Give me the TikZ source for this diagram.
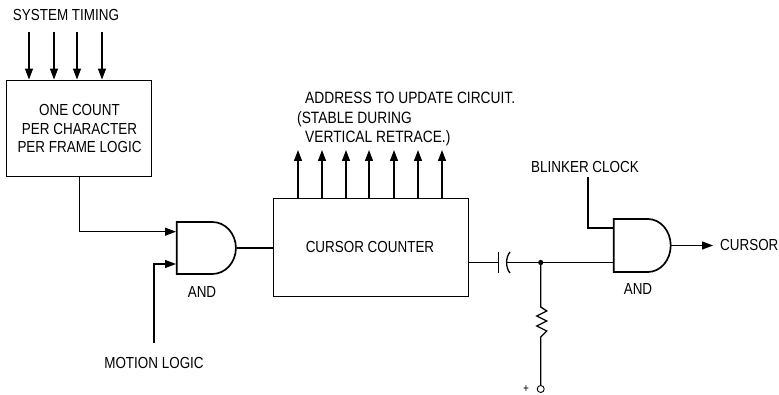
\documentclass[tikz,border=0pt]{standalone}
\usepackage{fontspec}
\setmainfont[FakeStretch=0.84]{Liberation Sans}
\usetikzlibrary{arrows.meta,calc,shapes.gates.logic.US}
\tikzset{
    label text/.style={font=\fontsize{16}{18.5}\selectfont, inner sep=0pt, align=center},
    address text/.style={font=\fontsize{16.4}{19.5}\selectfont, inner sep=0pt, align=left},
    block/.style={draw, line width=0.9pt, inner sep=0pt},
    gate/.style={and gate US, draw, line width=1.7pt, inner sep=0pt, logic gate inputs=nn, anchor=west, transform shape},
    wire/.style={line width=1.3pt},
    signal/.style={wire, -{Triangle[length=11pt,width=8pt]}},
}
\begin{document}
\begin{tikzpicture}[x=1pt, y=-1pt]
    \useasboundingbox (0,0) rectangle (779,395);

    % Draw blocks
    \node[block, minimum width=145pt, minimum height=96pt] (logicBox) at (78.5,128) {};
    \node[block, minimum width=195pt, minimum height=98pt] (counterBox) at (371,247) {};

    % Draw gates
    \node[gate, xscale=0.91, minimum height=52pt] (andLeft) at (176,248) {};
    \node[gate, xscale=0.86, minimum height=53pt] (andRight) at (613,245.5) {};

    % Define coordinates for gate inputs
    \coordinate (andLeftA) at ($(andLeft.west)+(0,-16.3)$);
    \coordinate (andLeftB) at ($(andLeft.west)+(0,16)$);
    \coordinate (andRightA) at ($(andRight.west)+(0,-17.5)$);
    \coordinate (andRightB) at ($(andRight.west)+(0,17)$);

    % Label blocks and gates
    \node[label text] (logicText) at (79.5,128.5) {ONE COUNT\\PER CHARACTER\\PER FRAME LOGIC};
    \node[label text] (counterText) at (370,247) {CURSOR COUNTER};
    \node[label text] (andLeftText) at (202,292) {AND};
    \node[label text] (andRightText) at (638,289) {AND};

    % Label signals
    \node[label text] (timingText) at (66,15) {SYSTEM TIMING};
    \node[label text] (motionText) at (154,363) {MOTION LOGIC};
    \node[label text] (blinkerText) at (585,167) {BLINKER CLOCK};
    \node[label text, anchor=west] (cursorText) at (720,245) {CURSOR};
    \node[address text, anchor=north west] (addressText) at (297,92)
        {\hspace*{8pt}ADDRESS TO UPDATE CIRCUIT.\\(STABLE DURING\\\hspace*{8pt}VERTICAL RETRACE.)};
    \node[label text] (plusText) at (526,389) {\fontsize{12}{12}\selectfont +};

    % Draw timing inputs
    \foreach \x [count=\i] in {29,54,77,102} {
        \coordinate (timing\i) at (\x,32);
        \draw[signal] (timing\i) -- (timing\i |- logicBox.north);
    }

    % Draw address outputs
    \foreach \x [count=\i] in {298,322,346,369,394,418,442} {
        \coordinate (address\i) at (\x,198);
        \draw[signal] (address\i) -- (\x,150);
    }

    % Draw left gate connections
    \coordinate (motionEnd) at (154,343);
    \draw[signal] (logicBox.south -| 79.5,0) |- (andLeftA);
    \draw[signal] (motionEnd) |- (andLeftB);
    \draw[wire] (andLeft.east) -- (counterBox.west |- andLeft.east);

    % Define coordinates for capacitor
    \coordinate (plateA) at (498.5,262.5);
    \coordinate (plateB) at (506,262.5);
    \coordinate (junction) at (540.7,262.5);

    % Draw capacitor
    \draw[wire] (counterBox.east |- plateA) -- (plateA);
    \draw[wire] (498.5,252) -- (498.5,273);
    \draw[wire] (510,252) .. controls (505.5,257) and (505.5,268) .. (510,273);
    \draw[wire] (plateB) -- (junction);
    \draw[wire] (junction) -- (andRightB);
    \fill (junction) circle (2.6pt);

    % Draw resistor
    \node[draw, circle, line width=0.9pt, minimum size=7pt, inner sep=0pt] (supply) at (540.7,389) {};
    \coordinate (resTop) at (540.7,307);
    \coordinate (resEnd) at (540.7,337);
    \draw[wire] (junction) -- (resTop) -- ++(6,4) -- ++(-10,5) -- ++(10,5) -- ++(-10,5) -- ++(10,5) -- (resEnd) -- (supply);

    % Draw right gate connections
    \coordinate (blinkerEnd) at (588,177);
    \coordinate (cursorEnd) at (713,245.5);
    \draw[wire] (blinkerEnd) |- (andRightA);
    \draw[signal] (andRight.east) -- (cursorEnd);
\end{tikzpicture}
\end{document}
